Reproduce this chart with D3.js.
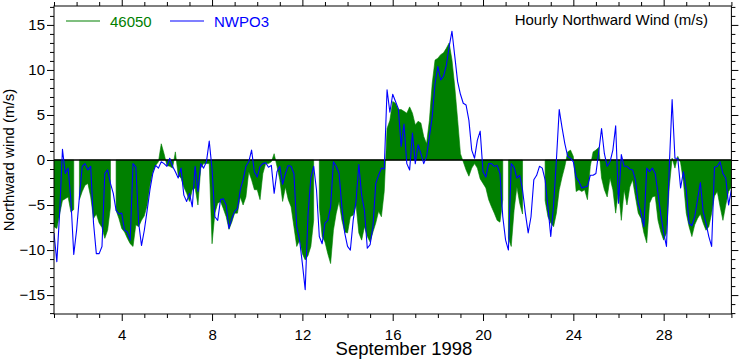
<!DOCTYPE html>
<html><head><meta charset="utf-8">
<script src="https://cdn.jsdelivr.net/npm/d3@7"></script>
<style>
body{margin:0;background:#fff}
svg{display:block}
text{font-family:"Liberation Sans", Arial, Helvetica, sans-serif}
</style>
</head><body>
<svg id="chart" width="739" height="359"></svg>
<script>
// ---- data (3-hourly samples, Sept 1 1998 00:00 onward) ----
const startDay = 1;
const stepHours = 3;
const seriesNames = ["46050", "NWPO3"];
const seriesColors = ["#008000", "#0000ff"];
const station46050 = [
 -7.4,-7.6,-6.0,-4.5,-4.3,-4.1,-5.8,-5.5,
 null,-4.4,-3.5,-2.8,-2.6,-4.1,-6.5,-6.0,
 -7.0,-7.5,-8.7,-7.8,-5.2,null,-5.6,-6.5,
 -7.6,-8.0,-8.7,-9.3,-9.6,-7.2,-7.4,-6.7,
 -6.2,-5.0,-2.8,-1.3,-0.6,-0.2,1.8,0.7,
 -0.6,-0.7,-0.9,0.9,-1.7,-2.0,-3.0,-3.7,
 -4.6,-3.3,-3.1,-5.0,-0.9,-0.4,-0.4,-0.4,
 -9.3,-5.9,-4.8,-4.6,-5.4,-6.3,-7.7,-6.9,
 -5.9,-5.9,-4.1,-5.0,-4.1,-1.3,-2.2,-3.3,
 -3.3,-4.4,-1.5,-0.4,-0.4,-0.2,0.7,-0.7,
 -2.2,-4.6,-3.0,-4.4,-5.2,-7.4,-9.6,-8.9,
 -10.4,-11.1,-10.6,-9.6,-6.7,null,-5.2,-8.5,
 -9.1,-10.4,-11.5,-7.8,-5.9,-4.6,-6.7,-8.0,
 -8.1,-6.3,-6.1,-5.0,-8.1,-8.9,-7.4,-8.5,
 -9.1,-8.0,-7.0,-5.7,-6.3,-3.5,3.5,4.4,
 6.5,6.3,5.6,5.6,5.4,5.2,5.9,5.2,
 3.9,4.3,4.1,2.6,1.8,4.4,8.5,11.1,
 11.3,11.7,11.9,12.4,13.0,11.1,8.1,4.5,
 0.7,-0.2,-1.1,-1.8,-0.9,-0.4,-0.9,-2.1,
 -2.6,-3.1,-4.4,-5.2,-5.9,-6.7,-6.9,-4.4,
 null,-8.7,-9.6,-5.6,-3.0,-4.8,-6.0,null,
 null,null,null,null,null,null,-4.5,-6.3,
 -7.0,-7.4,-5.9,-3.3,-1.9,-0.7,0.9,1.1,
 0.4,-3.5,-3.3,-3.5,-3.3,-4.4,-0.7,0.9,
 1.1,1.4,-2.0,-3.3,-4.1,-2.0,-3.3,-5.9,
 -3.3,-6.7,-3.3,-5.0,-3.0,-2.2,-4.1,-5.9,
 -6.5,-8.1,-9.2,-4.8,-4.1,-4.0,-6.7,-8.0,
 -8.9,-8.1,-3.0,0.2,-0.9,0.4,-0.3,-2.4,
 -5.9,-7.4,-8.5,-7.2,-6.5,-6.0,-7.0,-7.8,
 -7.4,-5.9,-4.0,-3.5,-5.2,-6.7,-5.0,-3.5,
 -3.0
];
const stationNWPO3 = [
 -8.1,-11.3,-5.9,1.2,-1.5,-0.9,-4.5,-10.5,
 -7.8,-4.1,-0.7,-0.4,-1.1,-0.7,-7.0,-10.4,
 -10.4,-9.6,-1.5,-1.1,-2.6,-3.7,-5.6,-6.0,
 -5.9,-7.8,-8.0,-8.9,-0.4,-0.8,-7.0,-9.5,
 -7.8,-5.6,-3.3,-1.5,-0.6,-0.9,-0.2,-0.4,
 -0.7,0.2,-0.7,-1.3,-2.0,-0.9,-3.9,-4.6,
 -3.7,-5.2,-0.7,-3.5,-0.4,-0.9,-0.2,2.1,
 -1.0,-6.3,-6.7,-4.4,-4.3,-5.0,-7.6,-6.5,
 -5.7,-5.4,-3.3,-2.2,-0.7,-0.2,1.1,-1.3,
 -1.9,-0.7,-0.4,-0.3,-0.8,-0.6,-3.7,-1.3,
 -0.7,-2.7,-1.5,-0.6,-0.7,-1.5,-7.4,-8.9,
 -11.5,-14.4,-6.0,-2.0,-0.7,-3.3,-8.5,-9.3,
 -7.0,-6.7,-5.2,-0.2,-0.7,-1.5,-5.2,-8.1,
 -9.6,-10.0,-6.7,-4.6,-0.5,-3.9,-5.6,-9.8,
 -9.4,-7.4,-2.6,-1.7,-0.9,-1.0,7.8,5.3,
 7.3,6.5,5.7,1.5,4.0,-0.4,-1.1,3.0,
 -0.4,1.7,0.7,-0.4,0.4,2.6,4.8,8.5,
 10.4,8.9,9.3,10.5,12.6,14.3,11.5,8.7,
 7.3,6.3,6.1,4.4,1.1,0.2,2.2,3.2,
 -1.3,-1.9,-0.4,-0.4,-0.7,-0.6,-1.5,-6.3,
 -8.9,-10.0,-0.4,-0.8,-2.0,-1.7,-3.3,-5.9,
 -8.1,-6.3,-2.2,-1.7,-0.7,-0.9,-2.2,-5.2,
 -8.5,-5.0,0.0,5.6,3.6,1.8,0.4,0.2,
 -0.2,-1.9,-2.4,-3.1,-3.0,-2.9,-1.7,-1.7,
 -1.5,0.9,3.5,0.7,-0.7,-0.2,1.1,3.8,
 -4.8,0.6,-0.7,-0.7,-1.0,-1.1,-2.2,-4.8,
 -5.9,-7.4,-0.9,-1.3,-0.9,-1.5,-3.7,-6.1,
 -8.1,-9.6,-0.6,6.7,0.2,0.2,-3.1,-1.3,
 -3.3,-7.0,-7.3,-6.3,-4.4,-2.5,-5.7,-7.0,
 -8.5,-9.6,-0.8,-0.7,-0.2,-1.5,-2.0,-5.0,
 -3.3
];
const yMajorTicks = [-15, -10, -5, 0, 5, 10, 15];
const xMajorTicks = [4, 8, 12, 16, 20, 24, 28];
const chartTitle = "Hourly Northward Wind (m/s)";
const yTitle = "Northward wind (m/s)";
const xTitle = "September 1998";

// ---- layout ----
const L = 54, R = 731.4, T = 6, B = 314;
const svg = d3.select("#chart");
const x = d3.scaleLinear().domain([1, 31]).range([L, R]);
const y = d3.scaleLinear().domain([-17.1, 17.1]).range([B, T]);
const dayOf = i => startDay + i * stepHours / 24;

svg.append("defs").append("clipPath").attr("id", "plotclip")
  .append("rect").attr("x", L).attr("y", T).attr("width", R - L).attr("height", B - T);

const g = svg.append("g").attr("clip-path", "url(#plotclip)");

// green filled area (46050)
const area = d3.area()
  .defined(d => d != null)
  .x((d, i) => x(dayOf(i)))
  .y0(y(0))
  .y1(d => y(d));
g.append("path").datum(station46050)
  .attr("d", area)
  .attr("fill", seriesColors[0])
  .attr("stroke", seriesColors[0])
  .attr("stroke-width", 0.6);

// zero reference line
g.append("line").attr("x1", L).attr("x2", R).attr("y1", y(0)).attr("y2", y(0))
  .attr("stroke", "#000").attr("stroke-width", 1.5);

// blue line (NWPO3)
const line = d3.line()
  .defined(d => d != null)
  .x((d, i) => x(dayOf(i)))
  .y(d => y(d));
g.append("path").datum(stationNWPO3)
  .attr("d", line)
  .attr("fill", "none")
  .attr("stroke", seriesColors[1])
  .attr("stroke-width", 1.1)
  .attr("stroke-linejoin", "round");

// ---- axes ----
const xMinor = d3.range(1, 32).filter(d => !xMajorTicks.includes(d));
const yMinor = d3.range(-17, 18).filter(d => !yMajorTicks.includes(d));
const fontSize = 15;

function styleAxis(sel) {
  sel.select(".domain").remove();
  sel.selectAll("line").attr("stroke", "#000").attr("stroke-width", 1);
  sel.selectAll("text").attr("font-size", fontSize).attr("fill", "#000")
    .attr("font-family", "'Liberation Sans', Arial, sans-serif");
}

svg.append("g").attr("transform", `translate(${L},0)`)
  .call(d3.axisLeft(y).tickValues(yMajorTicks).tickSize(7).tickPadding(2).tickFormat(d3.format("d")))
  .call(styleAxis);
svg.append("g").attr("transform", `translate(${L},0)`)
  .call(d3.axisLeft(y).tickValues(yMinor).tickSize(4).tickFormat(""))
  .call(styleAxis);
svg.append("g").attr("transform", `translate(${R},0)`)
  .call(d3.axisRight(y).tickValues(yMajorTicks).tickSize(7).tickFormat(""))
  .call(styleAxis);
svg.append("g").attr("transform", `translate(${R},0)`)
  .call(d3.axisRight(y).tickValues(yMinor).tickSize(4).tickFormat(""))
  .call(styleAxis);

svg.append("g").attr("transform", `translate(0,${B})`)
  .call(d3.axisBottom(x).tickValues(xMajorTicks).tickSize(7).tickPadding(8).tickFormat(d3.format("d")))
  .call(styleAxis);
svg.append("g").attr("transform", `translate(0,${B})`)
  .call(d3.axisBottom(x).tickValues(xMinor).tickSize(4).tickFormat(""))
  .call(styleAxis);
svg.append("g").attr("transform", `translate(0,${T})`)
  .call(d3.axisTop(x).tickValues(xMajorTicks).tickSize(7).tickFormat(""))
  .call(styleAxis);
svg.append("g").attr("transform", `translate(0,${T})`)
  .call(d3.axisTop(x).tickValues(xMinor).tickSize(4).tickFormat(""))
  .call(styleAxis);

// frame
svg.append("rect").attr("x", L).attr("y", T).attr("width", R - L).attr("height", B - T)
  .attr("fill", "none").attr("stroke", "#000").attr("stroke-width", 1);

// ---- titles ----
svg.append("text").attr("x", 404).attr("y", 355)
  .attr("text-anchor", "middle").attr("font-size", 18.5).text(xTitle);
svg.append("text").attr("transform", `translate(14,${(T + B) / 2}) rotate(-90)`)
  .attr("text-anchor", "middle").attr("font-size", 15).text(yTitle);
svg.append("text").attr("x", 708).attr("y", 25)
  .attr("text-anchor", "end").attr("font-size", 15).text(chartTitle);

// ---- legend ----
const legend = svg.append("g");
const legendX = [66, 170];
seriesNames.forEach((name, k) => {
  legend.append("line").attr("x1", legendX[k]).attr("x2", legendX[k] + 34)
    .attr("y1", 21).attr("y2", 21).attr("stroke", seriesColors[k]).attr("stroke-width", 1.1);
  legend.append("text").attr("x", legendX[k] + 44).attr("y", 26.5)
    .attr("font-size", 15).attr("fill", seriesColors[k]).text(name);
});
</script>
</body></html>
